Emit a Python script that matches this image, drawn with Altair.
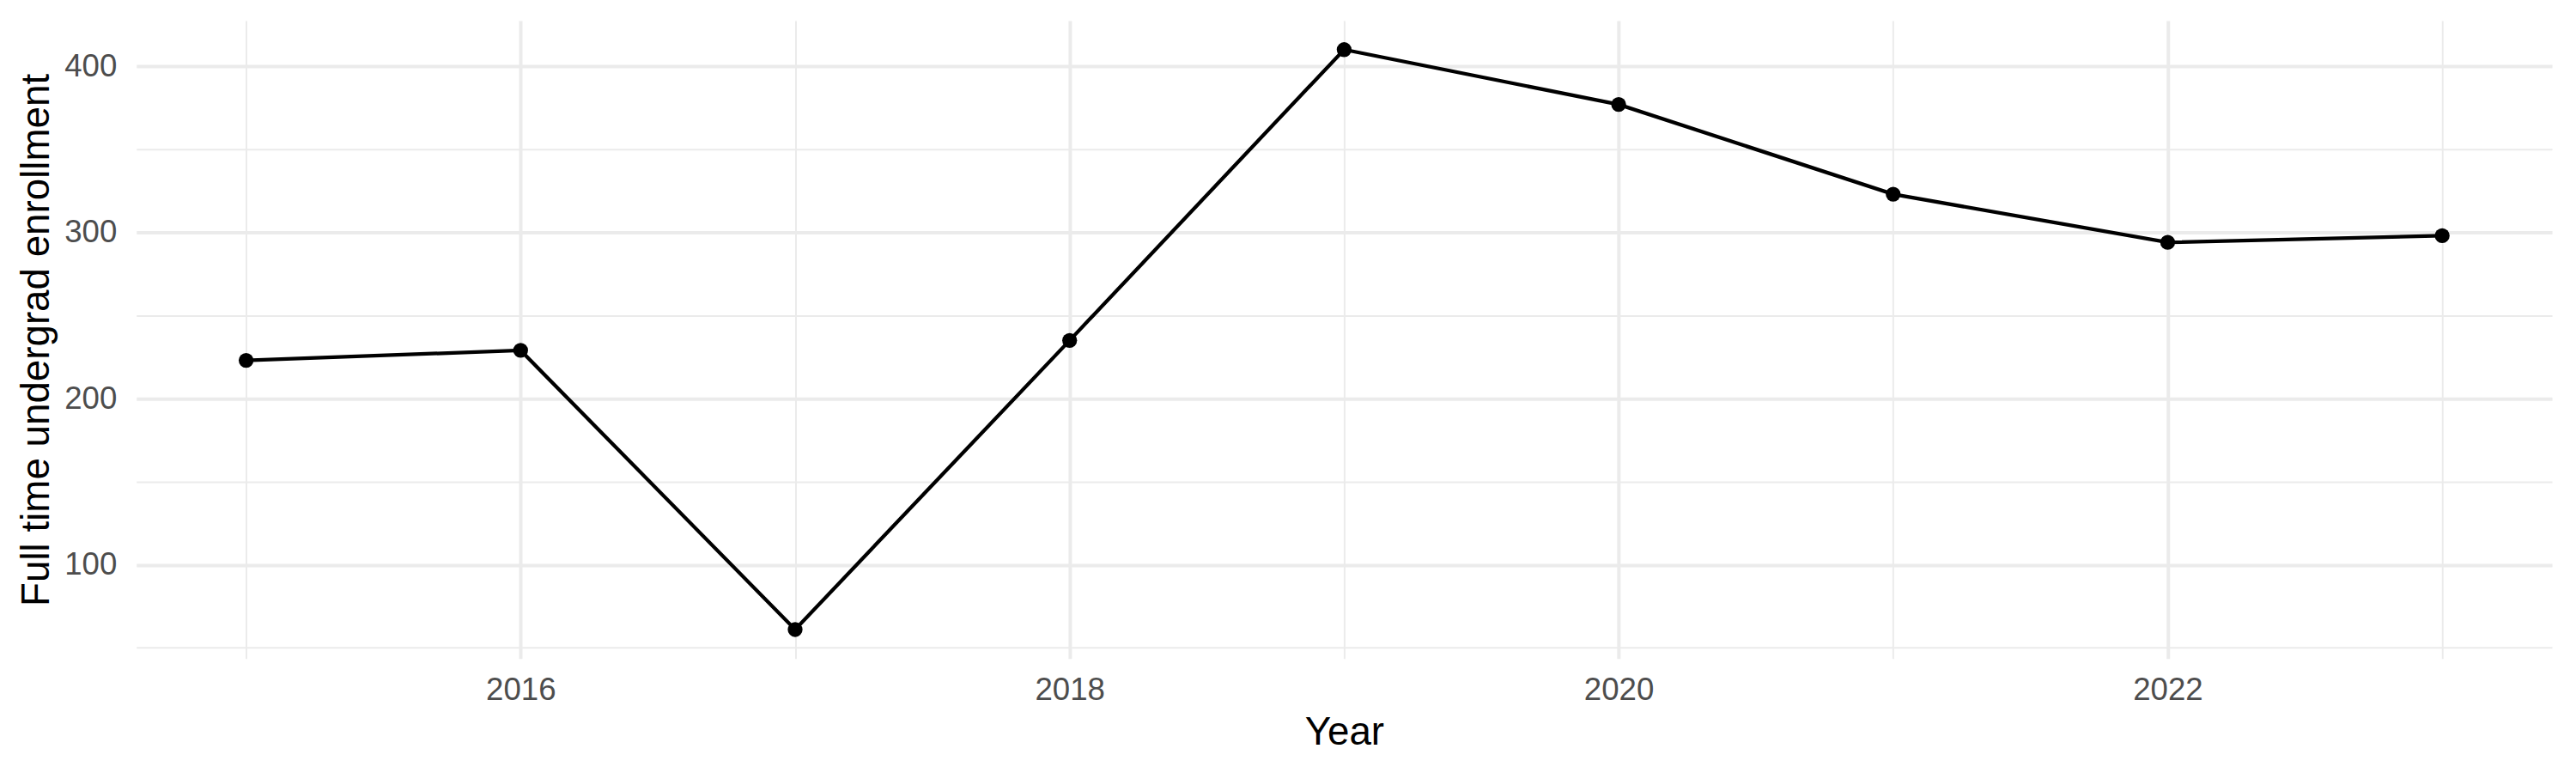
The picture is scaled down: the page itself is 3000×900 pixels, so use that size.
import altair as alt
import pandas as pd

years = [2015, 2016, 2017, 2018, 2019, 2020, 2021, 2022, 2023]
enrollment = [223, 229, 61, 235, 410, 377, 323, 294, 298]

df = pd.DataFrame({"Year": years, "Enrollment": enrollment})

# ggplot-style 5% expansion of the data range
ymin, ymax = min(enrollment), max(enrollment)
yr = ymax - ymin
y_domain = [ymin - 0.05 * yr, ymax + 0.05 * yr]
xmin, xmax = min(years), max(years)
xr = xmax - xmin
x_domain = [xmin - 0.05 * xr, xmax + 0.05 * xr]

FONT = "Liberation Sans"
GRID = "#EBEBEB"

x_enc = alt.X(
    "Year:Q",
    scale=alt.Scale(domain=x_domain, nice=False, zero=False),
    axis=alt.Axis(
        title="Year",
        values=years,
        labelExpr="datum.value % 2 === 0 ? format(datum.value, 'd') : ''",
        grid=True,
        gridColor=GRID,
        gridWidth={"condition": {"test": "datum.value % 2 === 0", "value": 4}, "value": 2},
        domain=False,
        ticks=False,
        tickSize=0,
        labelPadding=48,
        labelBaseline="alphabetic",
        labelFont=FONT,
        labelFontSize=36.7,
        labelColor="#4D4D4D",
        titleFont=FONT,
        titleFontSize=45.8,
        titleFontWeight="normal",
        titleColor="#000000",
        titleBaseline="alphabetic",
        titleY=99.7,
    ),
)

y_enc = alt.Y(
    "Enrollment:Q",
    scale=alt.Scale(domain=y_domain, nice=False, zero=False),
    axis=alt.Axis(
        title="Full time undergrad enrollment",
        values=[50, 100, 150, 200, 250, 300, 350, 400],
        labelExpr="datum.value % 100 === 0 ? datum.label : ''",
        grid=True,
        gridColor=GRID,
        gridWidth={"condition": {"test": "datum.value % 100 === 0", "value": 4}, "value": 2},
        domain=False,
        ticks=False,
        tickSize=0,
        labelPadding=23,
        labelFont=FONT,
        labelFontSize=36.7,
        labelColor="#4D4D4D",
        titleFont=FONT,
        titleFontSize=45.8,
        titleFontWeight="normal",
        titleColor="#000000",
        titleAngle=270,
        titleBaseline="alphabetic",
        titleX=-102.3,
    ),
)

base = alt.Chart(df).encode(x=x_enc, y=y_enc)
line = base.mark_line(color="black", strokeWidth=4.3)
points = base.mark_circle(color="black", opacity=1, size=300)

chart = (
    alt.layer(line, points)
    .properties(
        width=2818,
        height=744,
        autosize=alt.AutoSizeParams(type="none"),
        padding={"left": 151, "top": 15.3, "right": 20, "bottom": 120},
        background="white",
    )
    .configure_view(stroke=None)
)

chart.save("out.html", embed_options={"renderer": "svg", "actions": False})
